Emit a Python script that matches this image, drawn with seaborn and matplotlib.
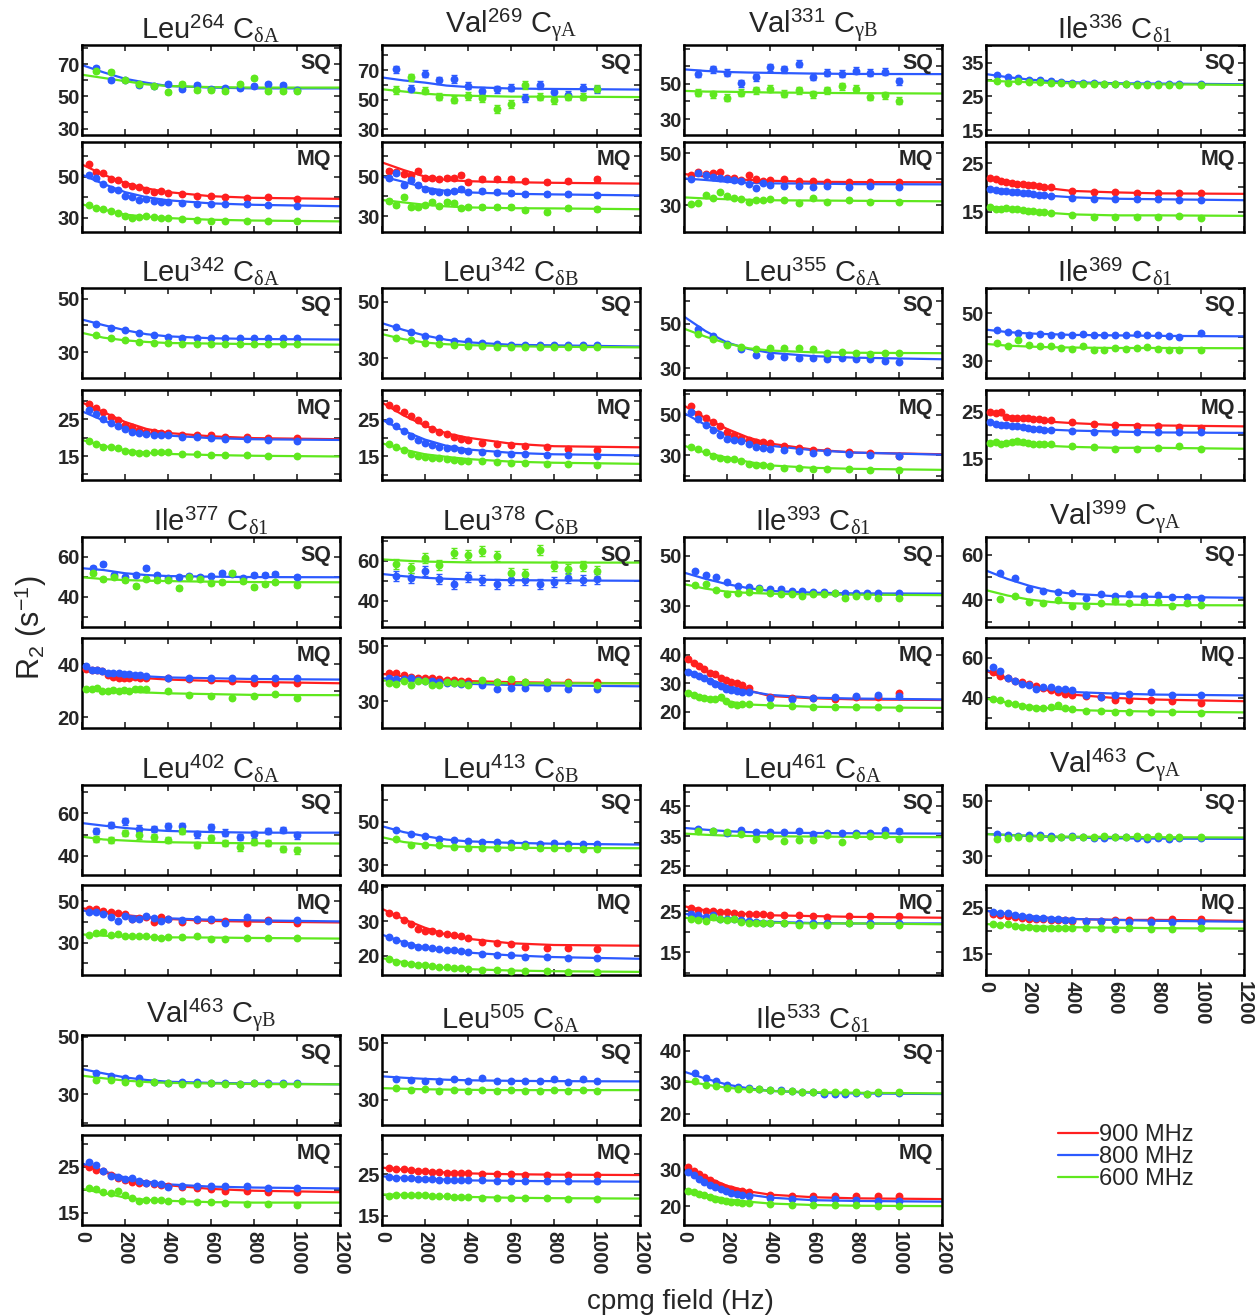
import matplotlib
matplotlib.use("Agg")
import matplotlib.pyplot as plt
from matplotlib.lines import Line2D
import seaborn as sns

# cpmg fields (Hz)
SQ_X_A = [67, 133, 200, 267, 333, 400, 467, 533, 600, 667, 733, 800, 867, 933, 1000]
SQ_X_B = [50, 100, 150, 200, 250, 300, 350, 400, 450, 500, 550, 600, 650, 700, 750, 800, 850, 900, 1000]
MQ_X_A = [33, 67, 100, 133, 167, 200, 233, 267, 300, 333, 367, 400, 467, 533, 600, 667, 767, 867, 1000]
MQ_X_B = [20, 45, 70, 95, 120, 145, 170, 195, 220, 245, 270, 300, 400, 500, 600, 700, 800, 900, 1000]
FIT_X = [0, 100, 200, 300, 400, 600, 800, 1200]

# ---- Leu264 CdA
L264A_SQ_800 = [67.5, 60, 60, 57, 56.5, 57.5, 54.5, 57, 54.5, 55, 55, 56.5, 58, 57, 54]
L264A_SQ_600 = [66, 65, 60.5, 57.5, 56.5, 53, 58, 54, 54, 53.5, 58, 61.5, 53.5, 53.5, 53.5]
L264A_SQF_800 = [69.5, 65, 61, 58.5, 56.5, 55.5, 55, 55]
L264A_SQF_600 = [63.5, 61.5, 59.5, 57.5, 56.5, 55.8, 55.5, 55.5]
L264A_MQ_900 = [56.3, 52.5, 51.7, 48.8, 48.3, 46.7, 45.3, 44.8, 43.3, 42.7, 43, 42, 41.5, 40.5, 40.8, 40.2, 39.5, 40, 39.3]
L264A_MQ_800 = [50.8, 49.2, 46.7, 44.2, 43.3, 40.8, 40, 38.8, 39.2, 38.3, 37.8, 37.8, 37.3, 36.8, 36.5, 36.8, 36.7, 36.2, 35.7]
L264A_MQ_600 = [36.2, 34.7, 34.2, 33.3, 32.5, 30.8, 30, 30.3, 30.8, 30.2, 30, 30, 29.2, 28.8, 28.5, 28.3, 28.3, 28.3, 28.3]
L264A_MQF_900 = [56, 51, 47, 44.3, 42.5, 40.5, 39.7, 39.2]
L264A_MQF_800 = [51, 46.5, 42.5, 40, 38.5, 37, 36.3, 35.6]
L264A_MQF_600 = [36.5, 34, 31.5, 30.5, 29.8, 29, 28.6, 28.2]

# ---- Val269 CgA
V269A_SQ_800 = [70.5, 57.5, 67.5, 63, 64, 59.5, 56, 57, 58, 51, 60, 55, 53, 58, 57]
V269A_SQ_600 = [56.5, 65, 56, 52, 50, 52.5, 51, 43.5, 47, 60, 52, 49.5, 52, 52, 57.5]
V269A_SQF_800 = [65, 63, 61.5, 59.5, 58.5, 57.5, 57.2, 56.8]
V269A_SQF_600 = [57, 55.5, 54, 53, 52.6, 52, 52, 51.7]
V269A_MQ_900 = [52.7, 51.9, 51, 50.5, 52.7, 49.1, 48.8, 48.3, 49.1, 48.8, 50.5, 47.1, 48.3, 48.3, 48.5, 47.4, 47.1, 47.6, 48.3]
V269A_MQ_800 = [48.8, 51.7, 45.7, 48, 45.7, 43.3, 42.5, 42, 42, 42.3, 43.7, 42, 42.5, 42, 41.6, 41.1, 41.1, 40.8, 40.3]
V269A_MQ_600 = [37.7, 35.5, 39.4, 34.6, 34.6, 35.6, 37.2, 35.1, 36.8, 36.3, 33.9, 34.6, 34.6, 34.3, 34.6, 32.9, 32.2, 33.8, 33.4]
V269A_MQF_900 = [56.8, 53, 49.7, 48, 47.4, 46.9, 46.6, 46.2]
V269A_MQF_800 = [49.7, 47.1, 44.2, 42.5, 41.8, 41.1, 40.8, 40.3]
V269A_MQF_600 = [38, 36.8, 35.6, 34.8, 34.3, 33.9, 33.8, 33.4]

# ---- Val331 CgB
V331B_SQ_800 = [55.8, 58.2, 56.4, 50.4, 53.6, 59.5, 58.2, 61.3, 54, 56.4, 55.8, 57.3, 56.4, 56.9, 51.5]
V331B_SQ_600 = [44.9, 44.2, 42.2, 44.9, 46.4, 47.3, 44.5, 46.4, 44, 46.4, 48.5, 47.3, 42.7, 43.6, 40.4]
V331B_SQF_800 = [58.2, 57.3, 56.7, 56.4, 56.2, 55.8, 55.6, 55.5]
V331B_SQF_600 = [46, 45.6, 45.5, 45.3, 45.1, 44.9, 44.7, 44.5]
V331B_MQ_900 = [41.6, 42.6, 42, 42.3, 42.6, 40.3, 40.3, 39.7, 41.6, 39.9, 39.4, 39.7, 40.1, 39.4, 39.3, 39, 38.8, 39, 39]
V331B_MQ_800 = [39.9, 42.5, 41.6, 41, 40.6, 39.9, 39.7, 39.3, 38, 36.8, 38.4, 37.7, 37.5, 37.5, 37.1, 37.5, 37.1, 37.5, 37.1]
V331B_MQ_600 = [30.6, 31, 33.9, 32.6, 35.2, 33.5, 32.6, 32.2, 31.3, 31.9, 31.9, 32.3, 31.9, 31, 32.8, 31.3, 31.9, 31.3, 31.3]
V331B_MQF_900 = [42, 41, 40.3, 39.7, 39.4, 39, 38.9, 38.8]
V331B_MQF_800 = [40.3, 39.7, 39, 38.6, 38.4, 38.3, 38.1, 38]
V331B_MQF_600 = [33, 32.6, 32.3, 32.1, 31.9, 31.8, 31.7, 31.5]

# ---- Ile336 Cd1
I336_SQ_800 = [31.4, 30.8, 30.3, 30, 29.8, 29.5, 29.3, 29.1, 29, 28.9, 28.8, 28.8, 28.7, 28.7, 28.7, 28.6, 28.6, 28.6, 28.6]
I336_SQ_600 = [29.5, 29.1, 29.6, 29.3, 29.2, 29, 28.9, 28.8, 28.7, 28.7, 28.7, 28.6, 28.6, 28.5, 28.5, 28.5, 28.5, 28.5, 28.5]
I336_SQF_800 = [31.6, 30.7, 30, 29.5, 29.2, 28.9, 28.8, 28.6]
I336_SQF_600 = [29.7, 29.4, 29.2, 29, 28.9, 28.7, 28.6, 28.4]
I336_MQ_900 = [21.9, 21.7, 21.4, 21.1, 20.9, 20.8, 20.7, 20.6, 20.5, 20.4, 20.2, 20.0, 19.2, 19.1, 19.0, 18.9, 18.8, 18.8, 18.8]
I336_MQ_800 = [19.7, 19.5, 19.3, 19.2, 19.1, 19, 18.9, 18.8, 18.6, 18.5, 18.4, 18.2, 17.9, 17.7, 17.6, 17.6, 17.6, 17.5, 17.5]
I336_MQ_600 = [16, 15.7, 15.5, 15.8, 15.5, 15.5, 15.3, 15.2, 15.1, 15, 14.9, 14.8, 14.3, 14, 14, 14, 14, 14.1, 13.8]
I336_MQF_900 = [22.1, 21.3, 20.6, 19.8, 19.3, 19, 18.8, 18.7]
I336_MQF_800 = [19.9, 19.3, 18.7, 18.3, 18, 17.7, 17.6, 17.4]
I336_MQF_600 = [16.2, 15.7, 15.2, 14.8, 14.5, 14.3, 14.3, 14.2]

# ---- Leu342 CdA
L342A_SQ_800 = [40.5, 39.1, 38.2, 37.2, 36.3, 35.7, 35.4, 35.3, 35.2, 35.2, 35.2, 35.1, 35.1, 35.1, 35.1]
L342A_SQ_600 = [36.3, 35.1, 34.4, 33.8, 33.4, 33.5, 33.2, 33.2, 33.1, 33.1, 33.1, 33.1, 33.1, 33, 33]
L342A_SQF_800 = [42.2, 40.1, 38.2, 36.7, 35.9, 35.2, 34.9, 34.7]
L342A_SQF_600 = [37.2, 35.4, 34.4, 33.8, 33.4, 33.2, 33, 32.8]
L342A_MQ_900 = [29.1, 28, 27, 25.6, 24.7, 23.5, 22.9, 22.2, 21.7, 21.5, 21.3, 21.3, 20.7, 20.7, 20.7, 20.3, 20.1, 19.9, 19.8]
L342A_MQ_800 = [27.5, 26.4, 25.2, 24.1, 23.1, 22.4, 21.7, 21.2, 21, 20.8, 20.8, 20.7, 20.3, 20.1, 19.8, 19.6, 19.6, 19.4, 19.2]
L342A_MQ_600 = [19.2, 18.4, 17.6, 17.5, 17.1, 16.4, 16.1, 15.9, 15.9, 16.1, 16.1, 16.1, 15.7, 15.5, 15.2, 15.2, 15.2, 15, 15]
L342A_MQF_900 = [29.6, 27, 24.3, 22.4, 21.3, 20.4, 19.9, 19.6]
L342A_MQF_800 = [27.2, 24.7, 22.4, 21.2, 20.6, 19.9, 19.6, 19.4]
L342A_MQF_600 = [19.4, 17.8, 16.6, 15.9, 15.6, 15.3, 15.1, 14.9]

# ---- Leu342 CdB
L342B_SQ_800 = [40.9, 39.4, 38, 37.1, 36.2, 35.9, 35.5, 35.1, 34.7, 34.7, 34.6, 34.6, 34.5, 34.5, 34.5]
L342B_SQ_600 = [37.1, 36.5, 35.3, 34.9, 34.5, 34.4, 34.2, 34.1, 34, 34, 33.9, 33.9, 33.9, 33.8, 33.8]
L342B_SQF_800 = [42.4, 40, 38, 36.5, 35.6, 34.7, 34.5, 34.1]
L342B_SQF_600 = [38.5, 36.7, 35.5, 34.9, 34.6, 34.2, 34, 33.8]
L342B_MQ_900 = [29.1, 28.1, 27, 25.9, 25, 23.8, 22.4, 21.6, 21, 20.3, 19.8, 19.4, 18.8, 18.5, 18.2, 17.9, 17.5, 17, 16.9]
L342B_MQ_800 = [24.7, 23.4, 22, 20.7, 19.6, 18.8, 18, 17.7, 17.4, 17.2, 16.9, 16.4, 16.3, 16, 15.8, 15.6, 15.3, 15.3, 15.1]
L342B_MQ_600 = [18.3, 17.5, 16.7, 15.6, 15.1, 14.9, 14.7, 14.7, 14.4, 14.1, 13.9, 13.9, 13.7, 13.5, 13.3, 13.2, 13, 13, 12.8]
L342B_MQF_900 = [29.7, 26.2, 23.4, 21.3, 20.1, 18.5, 17.8, 17.5]
L342B_MQF_800 = [25, 22, 19.6, 17.9, 16.9, 16, 15.6, 15.3]
L342B_MQF_600 = [18.6, 16.9, 15.6, 14.9, 14.3, 13.6, 13.3, 13]

# ---- Leu355 CdA
L355A_SQ_800 = [47.8, 44.5, 41, 38.5, 36, 35.5, 35, 34.8, 34.6, 34, 34.6, 34, 34, 33.2, 33]
L355A_SQ_600 = [45.2, 43.3, 40.4, 39.4, 38.7, 39.1, 39, 39, 38.7, 37, 37.5, 37, 36.5, 37, 36.8]
L355A_SQF_800 = [53.2, 46.7, 41.6, 38.7, 37, 35.5, 34.8, 34.1]
L355A_SQF_600 = [47.8, 44.2, 41.2, 39, 38, 37.2, 37, 36.8]
L355A_MQ_900 = [54.2, 50.5, 48.3, 46.2, 44.2, 41.7, 40, 38.3, 37.5, 36.7, 36.7, 36.2, 34.5, 33.7, 32.5, 32.2, 31.7, 31.2, 29.7]
L355A_MQ_800 = [51.3, 47.8, 45, 42.5, 40, 37.8, 37.5, 37, 35.8, 34.2, 33.7, 33.3, 32.5, 32, 31.2, 31.7, 30.8, 30, 29.5]
L355A_MQ_600 = [34.2, 33.3, 31.7, 29.5, 28.7, 28, 28, 27.2, 25.8, 25.3, 25, 24.7, 23.7, 23.7, 23.3, 23.3, 23, 22.8, 22.8]
L355A_MQF_900 = [54.5, 48.3, 43, 38.7, 35.8, 32.8, 31.3, 30.5]
L355A_MQF_800 = [50.8, 45, 40, 36.7, 34.7, 32.5, 31.3, 30.3]
L355A_MQF_600 = [34.7, 31.3, 28.8, 26.7, 25, 23.8, 23.3, 22.8]

# ---- Ile369 Cd1
I369_SQ_800 = [42.8, 42.2, 41.5, 40.9, 41.2, 40.9, 40.8, 40.9, 41.2, 40.8, 40.8, 40.8, 40.9, 41.2, 40.9, 40.8, 40.3, 40, 41.6]
I369_SQ_600 = [37.5, 36.2, 38.9, 36.8, 36.4, 36.4, 35.4, 34.8, 36.4, 34.4, 34.4, 35.4, 35, 35.4, 35.7, 35, 34.6, 34.4, 34.6]
I369_SQF_800 = [43.1, 42.1, 41.5, 41.2, 40.9, 40.7, 40.5, 40.3]
I369_SQF_600 = [37.1, 36.4, 36, 35.7, 35.6, 35.4, 35.4, 35.3]
I369_MQ_900 = [25, 24.8, 25, 23.9, 23.7, 23.8, 23.8, 23.7, 23.5, 23.4, 23.3, 23.2, 22.9, 22.4, 22.1, 21.9, 21.9, 21.7, 21.5]
I369_MQ_800 = [22.8, 22.4, 22.2, 22.1, 21.9, 21.9, 21.7, 21.5, 21.4, 21.4, 21.2, 21.2, 21, 20.7, 20.7, 20.7, 20.6, 20.6, 20.6]
I369_MQ_600 = [18.3, 18.5, 18.2, 18.4, 18.5, 18.7, 18.5, 18.4, 18.2, 18.2, 18.2, 18.1, 17.6, 17.5, 17.1, 17, 17.3, 17.6, 17.1]
I369_MQF_900 = [24.8, 24.1, 23.5, 22.9, 22.6, 22.2, 22.1, 21.9]
I369_MQF_800 = [22.8, 22.1, 21.5, 21.2, 21, 20.8, 20.6, 20.5]
I369_MQF_600 = [18.5, 18.2, 17.9, 17.7, 17.5, 17.3, 17.3, 17.1]

# ---- Ile377 Cd1
I377_SQ_800 = [54.5, 56.3, 51, 49.7, 50.8, 54.2, 50.8, 49.5, 50, 50.3, 49.7, 50.3, 51.7, 51.5, 49.5, 50.8, 50.8, 51.3, 50]
I377_SQ_600 = [51.7, 48.7, 49.7, 48.3, 45.5, 48.7, 48.3, 48.3, 44.2, 50, 48.7, 46.7, 47.5, 51.7, 48, 45, 46.2, 47.5, 45.8]
I377_SQF_800 = [54.2, 53.3, 51.7, 50.8, 50.3, 50, 49.8, 49.7]
I377_SQF_600 = [49.7, 48.8, 48.3, 48, 47.8, 47.5, 47.3, 47.2]
I377_MQ_900 = [38.4, 37.8, 37.8, 37.5, 35.9, 35.3, 35, 35, 35, 35.2, 35, 35, 34.8, 34.4, 34.1, 33.8, 33.1, 33.1, 33.1]
I377_MQ_800 = [39.6, 38.1, 38.1, 37.5, 36.9, 36.9, 36.6, 36.5, 36.3, 36, 35.9, 35.6, 34.8, 35, 34.8, 35, 34.8, 34.8, 35]
I377_MQ_600 = [30.9, 30.6, 31, 30, 29.8, 30.3, 29.8, 30.3, 30, 30.6, 30.6, 30.6, 29.8, 28.5, 28.1, 27.5, 28.1, 28.8, 27.5]
I377_MQF_900 = [38.8, 36.9, 35.6, 34.8, 34.3, 33.8, 33.4, 32.9]
I377_MQF_800 = [39.4, 37.5, 36.3, 35.5, 35.1, 34.8, 34.5, 34.3]
I377_MQF_600 = [30.9, 30.3, 29.8, 29.4, 29.1, 28.8, 28.5, 28.4]

# ---- Leu378 CdB
L378B_SQ_800 = [52.6, 51.6, 55, 51, 48.7, 52.1, 50.4, 48.7, 50.4, 50.4, 48.7, 49.6, 51.3, 50.4, 51]
L378B_SQ_600 = [58.5, 56.3, 61.3, 58, 64.2, 63, 65.2, 62.5, 54.1, 53.3, 65.5, 57.5, 55.8, 57.6, 55.1]
L378B_SQF_800 = [53.5, 52.4, 51.6, 51.1, 50.8, 50.4, 50.3, 50.1]
L378B_SQF_600 = [60.8, 60.2, 59.7, 59.5, 59.3, 59.3, 59.2, 59.2]
L378B_MQ_900 = [40.2, 40.1, 39.5, 38.7, 38.5, 38.5, 38.3, 38.1, 37.7, 37.7, 37.5, 37.3, 37.2, 37, 37, 37, 36.9, 36.9, 36.8]
L378B_MQ_800 = [38.3, 38.1, 38.1, 38.3, 37.7, 37.5, 37.3, 36.9, 36.5, 36.5, 36.3, 36.1, 35.7, 34.5, 34.9, 34.9, 34.8, 34.5, 34.5]
L378B_MQ_600 = [36.7, 36.3, 37.5, 35.7, 37.3, 37.5, 35.9, 35.9, 36.9, 36.5, 36.5, 35.9, 37.7, 37.1, 38.1, 36.9, 37.1, 36.7, 35.7]
L378B_MQF_900 = [39.9, 39, 38.3, 37.7, 37.3, 36.9, 36.7, 36.5]
L378B_MQF_800 = [38.3, 37.9, 37.3, 36.7, 36.3, 35.9, 35.7, 35.4]
L378B_MQF_600 = [37.5, 37.3, 37, 36.9, 36.7, 36.5, 36.5, 36.5]

# ---- Ile393 Cd1
I393_SQ_800 = [43.7, 42.1, 41.4, 39.3, 37.7, 37.5, 37, 36.6, 36.6, 35.9, 35.9, 35.5, 35.5, 35.2, 35.2, 35.0, 35.0, 35.0, 35.0]
I393_SQ_600 = [38.2, 38.6, 36.2, 34.8, 34.9, 35.6, 36.6, 35.2, 34.5, 34.8, 34, 34.5, 34.8, 35.2, 33.2, 33.8, 33.8, 32.9, 32.9]
I393_SQF_800 = [43.2, 40.7, 38.6, 37, 35.9, 35.2, 34.9, 34.8]
I393_SQF_600 = [38.6, 36.8, 35.6, 35.1, 34.8, 34.5, 34.4, 34.2]
I393_MQ_900 = [38.5, 37, 36, 35, 33.8, 33.2, 31.8, 31.2, 30.6, 30, 29.4, 28.4, 25.3, 24.7, 24.7, 24.5, 25.3, 25.3, 26.4]
I393_MQ_800 = [34.1, 33.2, 32.4, 31.8, 30.9, 29.8, 29.2, 28.1, 27.5, 27.3, 26.9, 26.9, 24.8, 24.6, 24.8, 25, 25.6, 25.8, 25.6]
I393_MQ_600 = [26.6, 25.9, 25.1, 24.9, 24.6, 24.6, 25.1, 23.6, 22.8, 22.5, 22.6, 22.6, 22.2, 22, 21.7, 21.7, 21.7, 21.7, 21.3]
I393_MQF_900 = [39.1, 34.5, 31, 27.5, 25.5, 24.7, 24.3, 24.1]
I393_MQF_800 = [35, 31.8, 29.2, 27.2, 25.9, 24.9, 24.6, 24.3]
I393_MQF_600 = [26.9, 25.1, 23.6, 22.5, 22.2, 21.7, 21.5, 21.3]

# ---- Val399 CgA
V399A_SQ_800 = [51.8, 49.5, 44.6, 43.8, 43.4, 43.1, 40.8, 42.3, 41.8, 42.3, 41.8, 42, 41.2, 41.2, 40.8]
V399A_SQ_600 = [40.3, 41.5, 38.8, 38.5, 39.7, 36.9, 36.9, 38.5, 39.2, 38.5, 38.8, 39, 36.9, 38.5, 37.7]
V399A_SQF_800 = [53, 49.2, 46.2, 43.8, 42.6, 41.5, 41.2, 40.8]
V399A_SQF_600 = [44.2, 41.8, 40, 38.9, 38.3, 37.8, 37.5, 37.4]
V399A_MQ_900 = [52.6, 51, 49.7, 48.5, 48, 46.6, 45.7, 44.8, 43.6, 42.8, 42, 41.1, 40.7, 40.3, 39, 39, 38.7, 38.5, 37.5]
V399A_MQ_800 = [55.1, 53.4, 49.7, 48.5, 46.9, 46.1, 44.4, 45.2, 45.2, 44.4, 44.4, 43.6, 41.5, 40.3, 41.5, 42, 42.8, 41.1, 41.1]
V399A_MQ_600 = [39.2, 38.7, 37.5, 36.7, 35.7, 35.4, 34.9, 34.9, 35.4, 36.2, 34.6, 34.1, 33.4, 33.4, 33, 33, 33, 33, 32.5]
V399A_MQF_900 = [53.4, 49.3, 46, 43.3, 41.5, 39.8, 39, 38.2]
V399A_MQF_800 = [53.9, 49.7, 46.1, 44, 42.8, 42, 41.5, 41.1]
V399A_MQF_600 = [39.5, 37.5, 35.7, 34.6, 33.8, 33.3, 33, 32.6]

# ---- Leu402 CdA
L402A_SQ_800 = [51.7, 54.6, 56.2, 52.8, 52.5, 54.1, 54.1, 50.1, 53.6, 50.9, 49, 50.1, 51.7, 52.2, 49.6]
L402A_SQ_600 = [48, 47.4, 50.6, 49.6, 49, 47.4, 51.7, 45, 48.5, 46.1, 44, 46.4, 46.1, 43.2, 42.6]
L402A_SQF_800 = [55.4, 54.2, 53.1, 52.3, 51.7, 51.2, 50.9, 50.9]
L402A_SQF_600 = [49, 47.7, 47.2, 46.7, 46.4, 46.1, 45.9, 45.8]
L402A_MQ_900 = [46.1, 46.4, 45.2, 44.8, 44.4, 43.9, 41.5, 41.9, 42.3, 40.2, 42.3, 41.5, 40.2, 41, 41, 40.7, 39.5, 41.1, 39.5]
L402A_MQ_800 = [44.8, 44.8, 43.9, 42.3, 40.7, 43.1, 41.5, 41.5, 42.8, 41.9, 40.7, 41.5, 41.1, 41.5, 41.5, 39.5, 42.3, 40.7, 41.1]
L402A_MQ_600 = [33.8, 34.8, 35.4, 33.8, 34, 33.3, 33.1, 33.1, 33.1, 32.8, 32.5, 32.8, 32.8, 33.1, 32, 31.6, 32.5, 32.5, 32.5]
L402A_MQF_900 = [46.7, 45.1, 43.4, 42.3, 41.5, 40.5, 40.2, 39.8]
L402A_MQF_800 = [45.6, 44.4, 43.1, 42.3, 41.8, 41.1, 40.8, 40.3]
L402A_MQF_600 = [34, 33.4, 33, 32.8, 32.6, 32.5, 32.3, 32]

# ---- Leu413 CdB
L413B_SQ_800 = [46.1, 44.4, 43.3, 42.2, 41.4, 40.9, 40.6, 40.6, 40.2, 39.8, 39.8, 40.2, 39.8, 39.7, 39.8]
L413B_SQ_600 = [42, 39.4, 39.1, 39.1, 38.3, 37.8, 37.8, 37.8, 38.1, 38.9, 37.8, 37.8, 37.8, 37.3, 37.3]
L413B_SQF_800 = [47.9, 45.2, 43.3, 41.7, 40.9, 40.2, 39.8, 39.4]
L413B_SQF_600 = [42.8, 40.6, 39.4, 38.6, 38.3, 37.9, 37.8, 37.7]
L413B_MQ_900 = [32.4, 31.8, 30.4, 29.1, 27.6, 27.3, 27.1, 26.6, 26.3, 26.1, 25.6, 25.1, 24.1, 23.8, 23.3, 22.6, 22.1, 22.1, 21.8]
L413B_MQ_800 = [25.3, 24.6, 23.8, 23.1, 22.6, 22.4, 22.1, 21.8, 21.6, 21.6, 21.4, 21.1, 20.6, 20.3, 20.1, 19.6, 19.6, 19.4, 19.3]
L413B_MQ_600 = [19.1, 18.3, 17.8, 17.6, 17.4, 17.3, 16.9, 16.8, 16.6, 16.4, 16.3, 16.1, 15.9, 15.8, 15.6, 15.6, 15.6, 15.4, 15.4]
L413B_MQF_900 = [33.6, 30.6, 28.1, 26.1, 24.9, 23.6, 23.1, 22.9]
L413B_MQF_800 = [26.1, 23.9, 22.3, 21.4, 20.9, 20.1, 19.6, 19.1]
L413B_MQF_600 = [19.3, 18.1, 17.1, 16.5, 16.1, 15.7, 15.5, 15.3]

# ---- Leu461 CdA
L461A_SQ_800 = [37.5, 36.7, 36.1, 37.2, 36.4, 36.4, 36.4, 36.7, 35.9, 36.1, 36.1, 36.1, 36.1, 37.2, 36.7]
L461A_SQ_600 = [36.7, 36.7, 36.4, 35.9, 34.2, 35, 33.5, 33.7, 33.7, 35.3, 33, 35.3, 35, 35.3, 34.2]
L461A_SQF_800 = [37.8, 37.2, 36.7, 36.4, 36.2, 36.1, 36, 35.9]
L461A_SQF_600 = [35.9, 35.5, 35.2, 35.1, 35, 34.9, 34.8, 34.7]
L461A_MQ_900 = [25.7, 25.2, 25.1, 25, 24.8, 24.8, 24.6, 24.4, 24.3, 24.2, 24.2, 24, 24, 24, 23.9, 23.6, 23.9, 23.9, 23.9]
L461A_MQ_800 = [24.4, 24, 23.6, 24, 23.2, 23, 23, 22.8, 22.5, 22.4, 22.1, 22, 22, 22, 22.1, 22.1, 22.1, 22, 22]
L461A_MQ_600 = [23.2, 22.8, 22.5, 23.6, 23, 22.8, 23, 22.4, 22.2, 22.2, 22.1, 22, 22, 21.7, 21.6, 21.7, 22, 21.7, 21.6]
L461A_MQF_900 = [26.2, 25.2, 24.7, 24.3, 24, 23.8, 23.6, 23.4]
L461A_MQF_800 = [24.4, 23.6, 23, 22.6, 22.4, 22.1, 22, 22]
L461A_MQF_600 = [23.4, 23, 22.6, 22.4, 22.2, 22, 22, 21.8]

# ---- Val463 CgA
V463A_SQ_800 = [38, 37.6, 37.3, 37.5, 37.6, 37.3, 37, 37.1, 36.8, 36.7, 36.6, 36.8, 36.8, 36.5, 36.3, 36.4, 36.3, 36.4, 36.5]
V463A_SQ_600 = [36, 36.4, 36.8, 36.7, 37, 36.7, 37, 37, 36.8, 37, 37.4, 37, 37, 37.4, 37, 37.4, 37, 37, 37]
V463A_SQF_800 = [38, 37.6, 37.2, 36.9, 36.7, 36.4, 36.3, 36.2]
V463A_SQF_600 = [37.9, 37.6, 37.4, 37.1, 37, 36.9, 36.8, 36.7]
V463A_MQ_900 = [23.6, 23.4, 23.2, 23, 22.8, 22.7, 22.6, 22.5, 22.4, 22.3, 22.3, 22.2, 22.2, 22.2, 22.3, 22.3, 22.4, 22.5, 22.7]
V463A_MQ_800 = [24.2, 24, 23.8, 23.4, 23.2, 23, 22.9, 22.8, 22.7, 22.5, 22.4, 22.3, 22.2, 22.1, 22.1, 22, 22, 22, 22]
V463A_MQ_600 = [21.5, 21.3, 21.4, 21.1, 20.9, 20.8, 20.7, 20.7, 20.7, 20.6, 20.6, 20.7, 20.7, 20.6, 20.5, 20.6, 20.4, 20.4, 20.6]
V463A_MQF_900 = [24.4, 23.6, 23.2, 22.8, 22.6, 22.4, 22.4, 22.2]
V463A_MQF_800 = [24.4, 23.7, 23.2, 22.8, 22.6, 22.4, 22.2, 22]
V463A_MQF_600 = [21.5, 21.2, 21, 20.9, 20.8, 20.7, 20.6, 20.5]

# ---- Val463 CgB
V463B_SQ_800 = [37.3, 36.5, 35.8, 35.6, 34.4, 34, 34.4, 34.2, 34, 33.8, 33.7, 34, 34, 34, 33.8]
V463B_SQ_600 = [35, 35, 34.4, 34, 34.4, 34, 33.6, 33.5, 33.8, 33.5, 33.5, 33.8, 33.5, 33.5, 33.6]
V463B_SQF_800 = [38.8, 37.3, 35.9, 35, 34.4, 34, 33.8, 33.5]
V463B_SQF_600 = [36.5, 35.6, 34.8, 34.3, 34, 33.8, 33.6, 33.5]
V463B_MQ_900 = [25, 24.4, 24.1, 23.3, 22.5, 22.2, 21.8, 21.5, 21.4, 21.2, 21, 20.8, 20.6, 20.3, 20.1, 19.8, 19.7, 19.5, 19.5]
V463B_MQ_800 = [26.1, 25.4, 24.1, 23.1, 22.9, 22.3, 22.6, 22, 21.6, 21.4, 21.2, 20.6, 20.8, 20.8, 20.8, 20.8, 20.8, 20.5, 20.5]
V463B_MQ_600 = [20.5, 20.2, 19.5, 19.2, 19.7, 18.9, 18.2, 17.6, 17.8, 17.8, 17.7, 17.5, 17.5, 17.3, 17.3, 17.1, 17, 16.8, 16.6]
V463B_MQF_900 = [25.4, 23.9, 22.5, 21.6, 21, 20.2, 19.8, 19.5]
V463B_MQF_800 = [25.8, 24.1, 22.7, 21.8, 21.2, 20.7, 20.5, 20.3]
V463B_MQF_600 = [20.2, 19.3, 18.3, 17.8, 17.6, 17.3, 17.2, 17.2]

# ---- Leu505 CdA
L505A_SQ_800 = [37.5, 37, 36.5, 36.8, 37.5, 36.8, 37.8, 36.5, 36.5, 36.8, 36.5, 37.2, 36.2, 37.5, 36.5]
L505A_SQ_600 = [34, 33.5, 33.8, 33.2, 33.5, 33, 33.5, 33.2, 33.5, 33, 33.2, 33.5, 33, 33.3, 33.2]
L505A_SQF_800 = [38.3, 37.8, 37.4, 37.1, 36.9, 36.7, 36.6, 36.5]
L505A_SQF_600 = [34.1, 33.9, 33.7, 33.6, 33.5, 33.4, 33.4, 33.4]
L505A_MQ_900 = [26.6, 26.3, 26.2, 26, 25.8, 25.8, 25.6, 25.6, 25.4, 25.4, 25.3, 25.2, 25.1, 25, 25, 24.9, 24.9, 24.8, 24.8]
L505A_MQ_800 = [24.4, 24.2, 24, 24, 23.9, 23.8, 23.8, 23.7, 23.7, 23.6, 23.6, 23.5, 23.5, 23.4, 23.4, 23.4, 23.3, 23.3, 23.3]
L505A_MQ_600 = [19.8, 20, 20, 19.9, 19.9, 19.9, 19.8, 19.8, 19.7, 19.6, 19.5, 19.5, 19.3, 19.3, 19.2, 19.2, 19.2, 19.1, 19]
L505A_MQF_900 = [26.6, 26.1, 25.7, 25.4, 25.2, 25, 24.9, 24.8]
L505A_MQF_800 = [24.5, 24.1, 23.9, 23.7, 23.5, 23.4, 23.3, 23.2]
L505A_MQF_600 = [20.1, 20, 19.8, 19.6, 19.5, 19.3, 19.2, 19.1]

# ---- Ile533 Cd1
I533_SQ_800 = [32.9, 31.5, 30.3, 29.3, 28.5, 28.1, 27.8, 27.5, 27.5, 27.3, 27, 27.1, 26.2, 26.2, 26.2, 26.5, 26.2, 26.5, 26.5]
I533_SQ_600 = [30.3, 29.3, 28.8, 28.1, 27.8, 27.8, 27.8, 27.5, 27.3, 27.3, 27.1, 26.8, 27.1, 27.1, 26.8, 26.8, 26.3, 26.8, 26.8]
I533_SQF_800 = [33.4, 31.2, 29.3, 28.1, 27.3, 26.7, 26.5, 26.3]
I533_SQF_600 = [30.5, 29.3, 28.3, 27.7, 27.3, 26.9, 26.7, 26.5]
I533_MQ_900 = [30.5, 29.6, 28.7, 27.9, 27, 26.2, 25.5, 24.9, 24.5, 24.2, 24, 23.8, 22.9, 22.6, 22.6, 22.8, 22.8, 22.6, 22.6]
I533_MQ_800 = [29.3, 28.4, 27.4, 26.4, 25.8, 25.2, 24.5, 24, 23.6, 23.3, 22.9, 22.6, 22.1, 21.8, 21.8, 21.8, 21.6, 21.4, 21.4]
I533_MQ_600 = [24.2, 23.8, 23.3, 22.9, 22.4, 21.9, 21.6, 21.3, 21.2, 21, 20.9, 20.9, 20.7, 20.4, 20.2, 20.2, 20.2, 20, 20]
I533_MQF_900 = [30.8, 27.9, 25.5, 24, 23.1, 22.4, 22.1, 21.9]
I533_MQF_800 = [29.8, 26.9, 24.5, 23.1, 22.3, 21.6, 21.4, 21.2]
I533_MQF_600 = [24.5, 23.1, 21.8, 21.2, 20.7, 20.3, 20.1, 20]

# panel table: key, title, SQ x grid, MQ x grid
PANELS = [
    ("L264A", r"Leu$^{\mathsf{264}}$ C$_{\mathrm{\delta A}}$", SQ_X_A, MQ_X_A),
    ("V269A", r"Val$^{\mathsf{269}}$ C$_{\mathrm{\gamma A}}$", SQ_X_A, MQ_X_A),
    ("V331B", r"Val$^{\mathsf{331}}$ C$_{\mathrm{\gamma B}}$", SQ_X_A, MQ_X_A),
    ("I336", r"Ile$^{\mathsf{336}}$ C$_{\mathrm{\delta 1}}$", SQ_X_B, MQ_X_B),
    ("L342A", r"Leu$^{\mathsf{342}}$ C$_{\mathrm{\delta A}}$", SQ_X_A, MQ_X_A),
    ("L342B", r"Leu$^{\mathsf{342}}$ C$_{\mathrm{\delta B}}$", SQ_X_A, MQ_X_A),
    ("L355A", r"Leu$^{\mathsf{355}}$ C$_{\mathrm{\delta A}}$", SQ_X_A, MQ_X_A),
    ("I369", r"Ile$^{\mathsf{369}}$ C$_{\mathrm{\delta 1}}$", SQ_X_B, MQ_X_B),
    ("I377", r"Ile$^{\mathsf{377}}$ C$_{\mathrm{\delta 1}}$", SQ_X_B, MQ_X_B),
    ("L378B", r"Leu$^{\mathsf{378}}$ C$_{\mathrm{\delta B}}$", SQ_X_A, MQ_X_A),
    ("I393", r"Ile$^{\mathsf{393}}$ C$_{\mathrm{\delta 1}}$", SQ_X_B, MQ_X_B),
    ("V399A", r"Val$^{\mathsf{399}}$ C$_{\mathrm{\gamma A}}$", SQ_X_A, MQ_X_A),
    ("L402A", r"Leu$^{\mathsf{402}}$ C$_{\mathrm{\delta A}}$", SQ_X_A, MQ_X_A),
    ("L413B", r"Leu$^{\mathsf{413}}$ C$_{\mathrm{\delta B}}$", SQ_X_A, MQ_X_A),
    ("L461A", r"Leu$^{\mathsf{461}}$ C$_{\mathrm{\delta A}}$", SQ_X_A, MQ_X_A),
    ("V463A", r"Val$^{\mathsf{463}}$ C$_{\mathrm{\gamma A}}$", SQ_X_B, MQ_X_A),
    ("V463B", r"Val$^{\mathsf{463}}$ C$_{\mathrm{\gamma B}}$", SQ_X_A, MQ_X_A),
    ("L505A", r"Leu$^{\mathsf{505}}$ C$_{\mathrm{\delta A}}$", SQ_X_A, MQ_X_A),
    ("I533", r"Ile$^{\mathsf{533}}$ C$_{\mathrm{\delta 1}}$", SQ_X_B, MQ_X_B),
]

# y axis: (ylim, tick positions, labelled ticks) for SQ and MQ
Y_AXES = {
    "L264A": ((26, 82), [30, 40, 50, 60, 70, 80], [30, 50, 70], (23, 67), [30, 40, 50, 60], [30, 50]),
    "V269A": ((26, 87), [30, 40, 50, 60, 70, 80], [30, 50, 70], (22, 67), [30, 40, 50, 60], [30, 50]),
    "V331B": ((21, 72), [30, 40, 50, 60, 70], [30, 50], (19.7, 54.3), [30, 40, 50], [30, 50]),
    "I336": ((13.6, 40.2), [15, 20, 25, 30, 35, 40], [15, 25, 35], (10.9, 29.3), [15, 20, 25], [15, 25]),
    "L342A": ((20.3, 54), [30, 40, 50], [30, 50], (8.5, 33), [10, 15, 20, 25, 30], [15, 25]),
    "L342B": ((22.9, 54.9), [30, 40, 50], [30, 50], (8.6, 33.1), [10, 15, 20, 25, 30], [15, 25]),
    "L355A": ((25.7, 66), [30, 40, 50, 60], [30, 50], (17.8, 62.2), [20, 30, 40, 50, 60], [30, 50]),
    "I369": ((22.8, 60.6), [30, 40, 50, 60], [30, 50], (10.4, 29.7), [15, 20, 25], [15, 25]),
    "I377": ((25, 69.7), [30, 40, 50, 60], [40, 60], (16, 50), [20, 30, 40], [20, 40]),
    "L378B": ((27, 72), [30, 40, 50, 60, 70], [40, 60], (20.2, 53), [30, 40, 50], [30, 50]),
    "I393": ((21.5, 57.4), [30, 40, 50], [30, 50], (14.2, 46), [20, 30, 40], [20, 30, 40]),
    "V399A": ((27.7, 68), [30, 40, 50, 60], [40, 60], (24.8, 69.8), [30, 40, 50, 60], [40, 60]),
    "L402A": ((31, 73.3), [40, 50, 60, 70], [40, 60], (14.4, 57.9), [20, 30, 40, 50], [30, 50]),
    "L413B": ((25.3, 67), [30, 40, 50, 60], [30, 50], (14.4, 40.5), [20, 30, 40], [20, 30, 40]),
    "L461A": ((22, 52.2), [25, 30, 35, 40, 45, 50], [25, 35, 45], (9.4, 31.4), [10, 15, 20, 25, 30], [15, 25]),
    "V463A": ((23.2, 55.6), [30, 40, 50], [30, 50], (10.4, 30), [15, 20, 25], [15, 25]),
    "V463B": ((19.4, 50.6), [20, 30, 40, 50], [30, 50], (12.3, 32), [15, 20, 25, 30], [15, 25]),
    "L505A": ((21, 53), [30, 40, 50], [30, 50], (12.7, 34.5), [15, 20, 25, 30], [15, 25]),
    "I533": ((16.5, 45), [20, 30, 40], [20, 30, 40], (14.9, 39.2), [20, 30], [20, 30]),
}

# error bar size on the noisier SQ panels
SQ_ERR = {"L264A": 1.2, "V269A": 2.5, "V331B": 2.0, "L378B": 2.5, "L402A": 1.5, "I377": 1.0}

COLORS = {"900": "#ff1f1f", "800": "#2c5aff", "600": "#5fe81e"}

sns.set_style("ticks")
plt.rcParams["font.family"] = ["Liberation Sans", "DejaVu Sans"]
plt.rcParams["mathtext.fontset"] = "custom"
plt.rcParams["mathtext.rm"] = "Liberation Serif"
plt.rcParams["mathtext.it"] = "Liberation Serif:italic"
plt.rcParams["mathtext.bf"] = "Liberation Serif:bold"
plt.rcParams["mathtext.sf"] = "Liberation Sans"

W, H = 1257, 1316
fig = plt.figure(figsize=(W / 100, H / 100), dpi=100)

COL_LEFT = [82, 382, 684, 986]
SQ_TOP = [45, 288, 537, 785, 1035]
MQ_TOP = [142, 390, 638, 885, 1135]
AX_W, AX_H = 258, 90


def make_ax(left, top):
    return fig.add_axes([left / W, 1 - (top + AX_H) / H, AX_W / W, AX_H / H])


def style_ax(ax, ylim, ticks, labels, show_x):
    ax.set_xlim(0, 1200)
    ax.set_ylim(ylim)
    ax.set_xticks(range(0, 1201, 200))
    ax.set_yticks(ticks)
    ax.set_yticklabels([f"{t:g}" if t in labels else "" for t in ticks])
    ax.tick_params(direction="in", top=True, right=True, length=4, width=1.2,
                   labelsize=14.5, pad=1.5)
    for lab in ax.get_yticklabels():
        lab.set_fontweight("bold")
    if show_x:
        ax.tick_params(axis="x", labelrotation=270, pad=4)
        for lab in ax.get_xticklabels():
            lab.set_fontweight("bold")
    else:
        ax.set_xticklabels([])
    for sp in ax.spines.values():
        sp.set_linewidth(1.8)
        sp.set_color("black")
    ax.set_xlabel("")
    ax.set_ylabel("")


def draw(ax, xs, ys, fit, color, err=0):
    sns.lineplot(x=FIT_X, y=fit, color=color, linewidth=1.6, ax=ax)
    if err:
        ax.errorbar(xs, ys, yerr=err, fmt="none", ecolor=color, elinewidth=1.3, capsize=2)
    sns.scatterplot(x=xs, y=ys, color=color, s=32, linewidth=0, ax=ax, zorder=3)


g = globals()
for i, (key, title, sq_x, mq_x) in enumerate(PANELS):
    r, c = divmod(i, 4)
    sq_lim, sq_ticks, sq_lab, mq_lim, mq_ticks, mq_lab = Y_AXES[key]
    last = (r == 4) or (r == 3 and c == 3)

    ax = make_ax(COL_LEFT[c], SQ_TOP[r])
    err = SQ_ERR.get(key, 0)
    draw(ax, sq_x, g[key + "_SQ_800"], g[key + "_SQF_800"], COLORS["800"], err)
    draw(ax, sq_x, g[key + "_SQ_600"], g[key + "_SQF_600"], COLORS["600"], err)
    style_ax(ax, sq_lim, sq_ticks, sq_lab, False)
    ax.set_title(title, fontsize=21, pad=2)
    ax.text(0.965, 0.80, "SQ", transform=ax.transAxes, ha="right", va="center",
            fontsize=15.5, fontweight="bold")

    ax = make_ax(COL_LEFT[c], MQ_TOP[r])
    for mhz in ["900", "800", "600"]:
        draw(ax, mq_x, g[key + "_MQ_" + mhz], g[key + "_MQF_" + mhz], COLORS[mhz],
             1.0 if key == "V269A" else 0)
    style_ax(ax, mq_lim, mq_ticks, mq_lab, last)
    ax.text(0.965, 0.80, "MQ", transform=ax.transAxes, ha="right", va="center",
            fontsize=15.5, fontweight="bold")

fig.text(0.024, 0.523, r"R$_{\mathsf{2}}$ (s$^{\mathsf{-1}}$)", rotation=90,
         ha="center", va="center", fontsize=22)
fig.text(0.541, 0.011, "cpmg field (Hz)", ha="center", va="center", fontsize=20)

handles = [Line2D([], [], color=COLORS[m], linewidth=1.6) for m in ["900", "800", "600"]]
fig.legend(handles, ["900 MHz", "800 MHz", "600 MHz"], loc="upper left",
           bbox_to_anchor=(1046 / W, 1 - 1112 / H), frameon=False, fontsize=17,
           handlelength=1.7, handletextpad=0.05, labelspacing=0.0, borderpad=0)

fig.savefig("out.png", dpi=100)
